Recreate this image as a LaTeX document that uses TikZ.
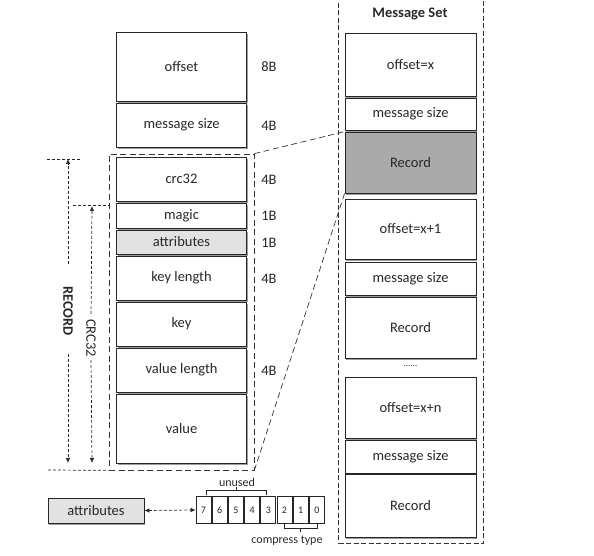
\documentclass[tikz,border=0pt]{standalone}
\usepackage{fontspec}
\setmainfont{Carlito}
\usetikzlibrary{arrows.meta,shadows,calc}
\definecolor{recgray}{RGB}{170,170,170}
\definecolor{attrgray}{RGB}{226,226,226}
\definecolor{ink}{RGB}{40,40,40}
\begin{document}
\begin{tikzpicture}[x=1pt,y=-1pt,
  mainfont/.style={font=\fontsize{14.5}{16}\selectfont},
  box/.style={draw=black!85, line width=0.8pt, fill=white, inner sep=0pt,
    mainfont, text=ink,
    drop shadow={shadow xshift=1pt, shadow yshift=-1.6pt, fill=black!55, opacity=0.7}},
  lbox/.style={box, minimum width=130pt},
  rbox/.style={box, minimum width=131pt},
  sizelbl/.style={mainfont, text=ink, inner sep=0pt},
  bigdash/.style={draw=black!80, line width=0.7pt, dash pattern=on 6pt off 3.5pt},
  finedash/.style={draw=black!85, line width=0.7pt, dash pattern=on 3pt off 2pt},
  bitbox/.style={draw=black!85, line width=0.7pt, fill=white, minimum width=15pt, minimum height=27pt, inner sep=0pt, font=\fontsize{10}{12}\selectfont, text=ink},
  tip/.style={-{Latex[length=5pt,width=4.5pt]}},
  smallfont/.style={font=\fontsize{12}{14}\selectfont, text=ink, inner sep=0pt}
]
\useasboundingbox (0,0) rectangle (594,556);

% ---------- left column ----------
\node[lbox, minimum height=69pt] (offset) at (181.5,66.5) {offset};
\node[lbox, minimum height=44pt] (msize) at (181.5,125) {message size};
\node[sizelbl] (l8) at (269,67) {8B};
\node[sizelbl] (l4a) at (269,126) {4B};

\node[bigdash, minimum width=145pt, minimum height=316pt, inner sep=0pt] (recbox) at (181.5,312) {};

\node[lbox, minimum height=44pt] (crc) at (181.5,179) {crc32};
\node[lbox, minimum height=25pt] (magic) at (181.5,215.5) {magic};
\node[lbox, minimum height=24pt, fill=attrgray] (attr) at (181.5,242) {attributes};
\node[lbox, minimum height=44pt] (keylen) at (181.5,278) {key length};
\node[lbox, minimum height=44pt] (key) at (181.5,324) {key};
\node[lbox, minimum height=44pt] (vallen) at (181.5,370) {value length};
\node[lbox, minimum height=69pt] (value) at (181.5,428.5) {value};

\node[sizelbl] (lcrc) at (269,180) {4B};
\node[sizelbl] (lmagic) at (269,216) {1B};
\node[sizelbl] (lattr) at (269,242.5) {1B};
\node[sizelbl] (lkey) at (269,279) {4B};
\node[sizelbl] (lval) at (269,371) {4B};

% ---------- RECORD / CRC32 arrows ----------
\coordinate (rtl) at (47,159);
\coordinate (rtop) at (68,159);
\coordinate (rtr) at (82,159);
\coordinate (rbot) at (68,463);
\coordinate (rbl) at (48,470);
\coordinate (ctl) at (73,205);
\coordinate (ctop) at (92,206);
\coordinate (cbot) at (92,463);
\coordinate (ctr) at (109,205);

\node[rotate=-90, font=\bfseries\fontsize{14.5}{16}\selectfont, text=ink, inner sep=0pt] (rectxt) at (68,311) {RECORD};
\node[rotate=-90, mainfont, text=ink, inner sep=0pt] (crctxt) at (91,338) {CRC32};

\draw[finedash] (rtl) -- (rtr);
\draw[finedash] (rbl) -- (recbox.south west);
\draw[finedash] (ctl) -- (ctr);
\draw[finedash, tip, shorten <=22pt] (rectxt.west) -- (rtop);
\draw[finedash, tip, shorten <=18pt] (rectxt.east) -- (rbot);
\draw[finedash, tip, shorten <=5pt] (crctxt.west) -- (ctop);
\draw[finedash, tip, shorten <=3pt] (crctxt.east) -- (cbot);

% ---------- Message Set ----------
\node[draw=black!80, line width=0.7pt, dash pattern=on 5pt off 2.5pt, minimum width=144.5pt, minimum height=546pt, inner sep=0pt] (mset) at (410.75,270.75) {};
\node[font=\bfseries\fontsize{14.5}{16}\selectfont, text=ink, inner sep=0pt] (msettitle) at (410,14) {Message Set};

\node[rbox, minimum height=63pt] (offx) at (410.5,64.5) {offset=x};
\node[rbox, minimum height=32pt] (ms1) at (410.5,114) {message size};
\node[rbox, minimum height=61pt, fill=recgray] (rec1) at (410.5,162.5) {Record};
\node[rbox, minimum height=60pt] (offx1) at (410.5,229) {offset=x+1};
\node[rbox, minimum height=33pt] (ms2) at (410.5,278.5) {message size};
\node[rbox, minimum height=61pt] (rec2) at (410.5,327.5) {Record};
\node[font=\fontsize{9}{10}\selectfont, text=ink, inner sep=0pt] (dots) at (410.5,366) {......};
\node[rbox, minimum height=61pt] (offxn) at (410.5,407.5) {offset=x+n};
\node[rbox, minimum height=33pt] (ms3) at (410.5,456.5) {message size};
\node[rbox, minimum height=63pt] (rec3) at (410.5,505.5) {Record};

% ---------- zoom connectors ----------
\draw[bigdash] (recbox.north east) -- (rec1.north west);
\draw[bigdash] (recbox.south east) -- (rec1.south west);

% ---------- attributes bits ----------
\node[box, minimum width=96pt, minimum height=25pt, fill=attrgray] (attrb) at (96,510.5) {attributes};

\foreach \lbl [count=\i from 0] in {7,6,5,4,3,2,1,0} {
  \node[bitbox] (b\lbl) at ({203.5+16.2*\i},510) {\lbl};
}

\draw[finedash, {Latex[length=5pt,width=4.5pt]}-{Latex[length=5pt,width=4.5pt]}] (attrb.east) -- (b7.west);

% unused bracket
\draw[draw=black!85, line width=0.7pt] ($(b7.north)+(3,-1.5)$) -- ++(0,-4) -| ($(b3.north)+(-2,-1.5)$);
\draw[draw=black!85, line width=0.7pt] ($(b7.north)!0.5!(b3.north)+(0.5,-5.5)$) -- ++(0,-4);
\node[smallfont] (unused) at (237,482) {unused};

% compress type bracket
\draw[draw=black!85, line width=0.7pt] ($(b2.south)+(0,0.5)$) -- ++(0,4) -| ($(b0.south)+(0,0.5)$);
\draw[draw=black!85, line width=0.7pt] ($(b2.south)!0.5!(b0.south)+(0,4.5)$) -- ++(0,4);
\node[smallfont] (ctype) at (287,541) {compress type};

\end{tikzpicture}
\end{document}
